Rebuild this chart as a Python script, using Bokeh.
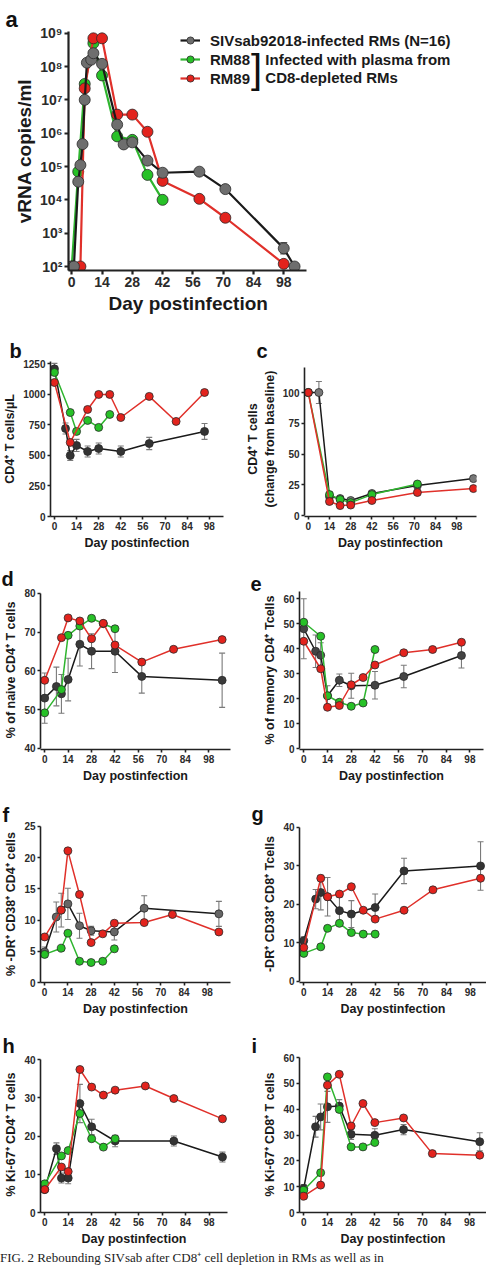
from bokeh.plotting import figure
from bokeh.models import (ColumnDataSource, FixedTicker, Whisker, TeeHead, Legend,
                          LegendItem, Label, Div, Range1d, Title)
from bokeh.layouts import column, row
from bokeh.embed import file_html
from bokeh.resources import INLINE

FONT = "Liberation Sans"

# ---------------- data ----------------
x_ticks = [0, 14, 28, 42, 56, 70, 84, 98]

# panel a: plasma viral load (copies/ml)
a_y_ticks = [1e2, 1e3, 1e4, 1e5, 1e6, 1e7, 1e8, 1e9]
a_y_labels = ["10²", "10³", "10⁴", "10⁵", "10⁶", "10⁷", "10⁸", "10⁹"]
a_gray_day = [0, 1, 3, 4, 5, 6, 7, 9, 10, 14, 21, 24, 28, 35, 42, 59, 71, 98, 103]
a_gray_vl = [1e2, 1e2, 3.5e4, 1.1e5, 4.7e5, 1.0e7, 1.3e8, 1.6e8, 2.5e8, 1.2e8, 1.8e6,
             4.6e5, 5.3e5, 1.5e5, 6.5e4, 7.0e4, 2.1e4, 3.5e2, 1e2]
a_gray_hi = [1e2, 1e2, 4.2e4, 1.3e5, 5.5e5, 1.2e7, 1.6e8, 2.0e8, 3.2e8, 1.5e8, 2.2e6,
             5.5e5, 6.6e5, 2.0e5, 8.2e4, 8.8e4, 2.7e4, 5.2e2, 1e2]
a_gray_lo = [1e2, 1e2, 2.9e4, 0.9e5, 3.9e5, 0.8e7, 1.05e8, 1.3e8, 2.0e8, 0.95e8, 1.45e6,
             3.8e5, 4.3e5, 1.15e5, 5.2e4, 5.6e4, 1.65e4, 2.4e2, 1e2]
a_green_day = [0, 3, 6, 10, 14, 21, 28, 35, 42]
a_green_vl = [1e2, 7e4, 3e7, 5e8, 5.4e7, 8e5, 6.3e5, 5.6e4, 1.0e4]
a_red_day = [4, 6, 10, 14, 21, 28, 35, 42, 59, 71, 98]
a_red_vl = [1e2, 2.2e7, 7e8, 7e8, 3.6e6, 3.6e6, 1.1e6, 3.7e4, 1.07e4, 2.9e3, 1.2e2]

# panel b: CD4+ T cells / uL
b_y_ticks = [0, 250, 500, 750, 1000, 1250]
b_gray_day = [0, 7, 10, 14, 21, 28, 42, 60, 95]
b_gray = [1210, 721, 500, 582, 533, 557, 533, 598, 697]
b_gray_err = [45, 45, 40, 50, 45, 45, 45, 50, 65]
b_green_day = [0, 10, 14, 21, 28, 35]
b_green = [1180, 852, 697, 787, 730, 836]
b_red_day = [0, 10, 21, 28, 35, 42, 60, 77, 95]
b_red = [1098, 607, 877, 1000, 1000, 811, 984, 779, 1016]

# panel c: CD4+ T cells, change from baseline
c_y_ticks = [0, 25, 50, 75, 100]
c_gray_day = [0, 7, 14, 21, 28, 42, 72, 109]
c_gray = [100, 100, 15.4, 13.8, 12.2, 17.9, 24.4, 30.0]
c_gray_err = [0, 9, 2, 1.5, 1.5, 1.5, 1.5, 1.5]
c_green_day = [0, 14, 21, 28, 42, 72]
c_green = [100, 17, 13, 10.5, 17, 25.6]
c_red_day = [0, 14, 21, 28, 42, 72, 109]
c_red = [100, 11.4, 8.1, 8.5, 12.2, 18.7, 21.9]

# panel d: % naive CD4+
d_y_ticks = [40, 50, 60, 70, 80]
d_gray_day = [0, 7, 10, 14, 21, 28, 42, 58, 106]
d_gray = [53.0, 56.0, 54.1, 57.8, 66.9, 65.1, 65.1, 58.6, 57.6]
d_gray_err = [6.5, 5, 5, 5.5, 5.6, 4.5, 5.5, 4.3, 7]
d_green_day = [0, 10, 14, 21, 28, 35, 42]
d_green = [49.2, 55.2, 69.2, 71.6, 73.6, 72.2, 70.9]
d_red_day = [0, 10, 14, 21, 28, 35, 42, 58, 77, 106]
d_red = [57.6, 68.6, 73.7, 72.9, 68.3, 72.3, 66.7, 62.3, 65.6, 68.1]

# panel e: % memory CD4+
e_y_ticks = [0, 10, 20, 30, 40, 50, 60]
e_gray_day = [0, 7, 10, 14, 21, 28, 42, 59, 93]
e_gray = [47.9, 38.9, 37.3, 21.1, 27.3, 25.1, 25.3, 28.8, 37.2]
e_gray_err = [12, 6.5, 5, 4, 2.5, 5, 5.5, 4.5, 5]
e_green_day = [0, 10, 14, 21, 28, 35, 42]
e_green = [50.5, 44.9, 21.1, 18.5, 16.9, 18.2, 39.6]
e_red_day = [0, 10, 14, 21, 28, 35, 42, 59, 76, 93]
e_red = [42.9, 31.9, 16.5, 17.2, 25.5, 28.4, 33.4, 38.3, 39.6, 42.5]

# panel f: % DR+ CD38+ CD4+
f_y_ticks = [0, 5, 10, 15, 20, 25]
f_gray_day = [0, 7, 10, 14, 21, 28, 42, 60, 105]
f_gray = [4.9, 10.5, 11.6, 12.6, 9.1, 8.3, 8.1, 11.9, 11.0]
f_gray_err = [0.8, 2.4, 2.7, 2.5, 2.0, 0.7, 1.3, 2.0, 2.0]
f_green_day = [0, 10, 14, 21, 28, 35, 42]
f_green = [4.5, 5.5, 7.9, 3.4, 3.2, 3.4, 5.4]
f_red_day = [0, 10, 14, 21, 28, 35, 42, 60, 77, 105]
f_red = [7.3, 11.6, 21.1, 14.1, 6.4, 7.8, 9.5, 9.6, 10.9, 8.1]

# panel g: % DR+ CD38+ CD8+
g_y_ticks = [0, 10, 20, 30, 40]
g_gray_day = [0, 7, 10, 14, 21, 28, 42, 59, 104]
g_gray = [10.6, 21.4, 23.1, 22.0, 18.4, 17.5, 19.2, 28.7, 30.0]
g_gray_err = [1, 2.5, 4.5, 5, 3.5, 3.5, 3.5, 3.3, 6.3]
g_green_day = [0, 10, 14, 21, 28, 35, 42]
g_green = [7.3, 9.0, 13.8, 15.1, 12.7, 12.3, 12.3]
g_red_day = [0, 10, 14, 21, 28, 35, 42, 59, 76, 104]
g_red = [8.8, 26.8, 22.0, 22.7, 24.6, 18.5, 16.2, 18.5, 23.8, 26.8]

# panel h: % Ki-67+ CD4+
h_y_ticks = [0, 10, 20, 30, 40]
h_gray_day = [0, 7, 10, 14, 21, 28, 42, 77, 106]
h_gray = [6.0, 16.7, 9.0, 9.0, 28.5, 22.4, 18.7, 18.7, 14.5]
h_gray_err = [0.5, 1.5, 1.3, 1.5, 5, 2, 1.5, 1.3, 1.3]
h_green_day = [0, 10, 14, 21, 28, 35, 42]
h_green = [7.5, 14.8, 16.2, 25.9, 19.3, 17.1, 19.3]
h_red_day = [0, 10, 14, 21, 28, 35, 42, 60, 77, 106]
h_red = [6.0, 11.9, 10.7, 37.4, 32.8, 30.7, 32.0, 33.1, 29.8, 24.5]

# panel i: % Ki-67+ CD8+
i_y_ticks = [0, 10, 20, 30, 40, 50, 60]
i_gray_day = [0, 7, 10, 14, 21, 28, 42, 59, 104]
i_gray = [9.3, 33.2, 37.0, 40.9, 41.2, 30.3, 29.9, 32.1, 27.4]
i_gray_err = [1.5, 4, 5, 6, 2.5, 2, 2.5, 2, 3.5]
i_green_day = [0, 10, 14, 21, 28, 35, 42]
i_green = [8.6, 15.4, 52.5, 39.9, 25.4, 25.4, 27.1]
i_red_day = [0, 10, 14, 21, 28, 35, 42, 59, 76, 104]
i_red = [6.3, 10.6, 49.3, 53.5, 33.5, 42.2, 34.8, 36.6, 22.8, 22.2]

# ---------------- styles ----------------
GRAY_LINE = "#1a1a1a"
GREEN_LINE = "#2fb52f"
RED_LINE = "#e0302a"
GREEN_FILL = "#27c127"
RED_FILL = "#e3231d"
EDGE = "#2a2a2a"
ERR = "#7a7a7a"


def style(p, tick_px, label_px, axis_w, tick_out, lab_standoff, title_standoff_x, title_standoff_y):
    p.outline_line_color = None
    p.xgrid.visible = False
    p.ygrid.visible = False
    p.background_fill_color = "white"
    p.border_fill_color = "white"
    for ax in (p.xaxis[0], p.yaxis[0]):
        ax.axis_line_color = "#222222"
        ax.axis_line_width = axis_w
        ax.major_tick_line_color = "#222222"
        ax.major_tick_line_width = axis_w
        ax.major_tick_out = tick_out
        ax.major_tick_in = 0
        ax.minor_tick_line_color = None
        ax.major_label_text_font = FONT
        ax.major_label_text_font_style = "bold"
        ax.major_label_text_font_size = f"{tick_px}px"
        ax.major_label_text_color = "#2b2b2b"
        ax.major_label_standoff = lab_standoff
        ax.axis_label_text_font = FONT
        ax.axis_label_text_font_style = "bold"
        ax.axis_label_text_font_size = f"{label_px}px"
        ax.axis_label_text_color = "#1a1a1a"
    p.xaxis[0].axis_label_standoff = title_standoff_x
    p.yaxis[0].axis_label_standoff = title_standoff_y


def set_title(p, letter, px, offset, standoff):
    p.title.text = letter
    p.title.text_font = FONT
    p.title.text_font_style = "bold"
    p.title.text_font_size = f"{px}px"
    p.title.text_color = "#111111"
    p.title.align = "left"
    p.title.offset = offset
    p.title.standoff = standoff


def series(p, days, vals, line_color, fill, size, lw):
    src = ColumnDataSource(dict(x=days, y=vals))
    lr = p.line("x", "y", source=src, line_color=line_color, line_width=lw)
    sr = p.scatter("x", "y", source=src, size=size, fill_color=fill,
                   line_color=EDGE, line_width=0.8)
    return lr, sr


def whiskers(p, days, lo, hi, head, color=ERR, lw=1.1):
    src = ColumnDataSource(dict(x=days, lo=lo, hi=hi))
    w = Whisker(source=src, base="x", lower="lo", upper="hi",
                line_color=color, line_width=lw,
                upper_head=TeeHead(size=head, line_color=color, line_width=lw),
                lower_head=TeeHead(size=head, line_color=color, line_width=lw))
    p.add_layout(w)


def panel(letter, width, height, border, xr, yr, ybounds, y_ticks, ylabel,
          gray, green, red, gray_fill, letter_offset, letter_standoff):
    l, r, t, b = border
    p = figure(width=width, height=height, x_range=Range1d(*xr), y_range=Range1d(*yr),
               output_backend="svg", toolbar_location=None,
               min_border_left=l, min_border_right=r, min_border_top=t,
               min_border_bottom=b)
    style(p, 10, 12.5, 1.6, 3, 2, 3, 3)
    set_title(p, letter, 20, letter_offset, letter_standoff)
    p.xaxis.ticker = FixedTicker(ticks=x_ticks)
    p.yaxis.ticker = FixedTicker(ticks=y_ticks)
    if ybounds is not None:
        p.yaxis.bounds = ybounds
    p.xaxis.axis_label = "Day postinfection"
    p.yaxis.axis_label = ylabel
    gd, gv, ge = gray
    whiskers(p, gd, [v - e for v, e in zip(gv, ge)], [v + e for v, e in zip(gv, ge)], 6)
    series(p, gd, gv, GRAY_LINE, gray_fill, 8, 1.5)
    series(p, green[0], green[1], GREEN_LINE, GREEN_FILL, 8, 1.5)
    series(p, red[0], red[1], RED_LINE, RED_FILL, 8, 1.5)
    return p


# ---------------- panel a ----------------
pa = figure(width=486, height=330, x_range=Range1d(-1.5, 187.1),
            y_range=Range1d(10 ** 1.88, 10 ** 9.05), y_axis_type="log",
            output_backend="svg", toolbar_location=None,
            min_border_left=68, min_border_right=10, min_border_top=31, min_border_bottom=60)
style(pa, 14, 19, 2.2, 4, 2, 5, 2)
set_title(pa, "a", 22, -63, 0)
pa.xaxis.ticker = FixedTicker(ticks=x_ticks)
pa.xaxis.bounds = (-1.5, 108.5)
pa.yaxis.ticker = FixedTicker(ticks=a_y_ticks)
pa.yaxis.major_label_overrides = {float(t): s for t, s in zip(a_y_ticks, a_y_labels)}
pa.yaxis.axis_label = "vRNA copies/ml"
pa.add_layout(Title(text="Day postinfection", align="left", offset=40, standoff=3,
                    text_font=FONT, text_font_style="bold", text_font_size="19px",
                    text_color="#1a1a1a"), "below")
whiskers(pa, a_gray_day, a_gray_lo, a_gray_hi, 7, color="#555555", lw=1.3)
gl, gs = series(pa, a_green_day, a_green_vl, GREEN_LINE, GREEN_FILL, 11, 2.2)
rl, rs = series(pa, a_red_day, a_red_vl, RED_LINE, RED_FILL, 11, 2.2)
kl, ks = series(pa, a_gray_day, a_gray_vl, GRAY_LINE, "#6e6e6e", 11, 2.2)
legend = Legend(items=[
    LegendItem(label="SIVsab92018-infected RMs (N=16)", renderers=[kl, ks]),
    LegendItem(label="RM88", renderers=[gl, gs]),
    LegendItem(label="RM89", renderers=[rl, rs]),
], location=(112, 183), padding=0, margin=0, spacing=1,
    border_line_color=None, background_fill_alpha=0,
    glyph_width=20, glyph_height=18, label_height=18, label_standoff=10,
    label_text_font=FONT, label_text_font_style="bold", label_text_font_size="15px",
    label_text_color="#1a1a1a")
pa.add_layout(legend)
pa.add_layout(Label(x=89.5, y=10 ** 8.21, text="Infected with plasma from",
                    text_font=FONT, text_font_style="bold", text_font_size="15px",
                    text_color="#1a1a1a", text_baseline="middle", text_align="left"))
pa.add_layout(Label(x=89.5, y=10 ** 7.67, text="CD8-depleted RMs",
                    text_font=FONT, text_font_style="bold", text_font_size="15px",
                    text_color="#1a1a1a", text_baseline="middle", text_align="left"))
pa.add_layout(Label(x=85.4, y=10 ** 7.94, text="]",
                    text_font=FONT, text_font_size="40px",
                    text_color="#111111", text_baseline="middle", text_align="center"))

# ---------------- lower panels ----------------
# row 2: frames 361..516
pb = panel("b", 243, 230, (42, 20, 31, 44), (-2.5, 107), (0, 1270), None, b_y_ticks,
           "CD4⁺ T cells/µL", (b_gray_day, b_gray, b_gray_err),
           (b_green_day, b_green), (b_red_day, b_red), "#333333", -41, 0)
pc = panel("c", 243, 230, (56, 10, 31, 44), (-2.5, 111), (-0.8, 125.2), (0, 120), c_y_ticks,
           "CD4⁺ T cells\n(change from baseline)", (c_gray_day, c_gray, c_gray_err),
           (c_green_day, c_green), (c_red_day, c_red), "#777777", -48, 0)
# row 3: frames 590..749
pd_ = panel("d", 243, 230, (40, 13, 30, 41), (-2.5, 111), (39.74, 80.77), (40, 80), d_y_ticks,
            "% of naive CD4⁺ T cells", (d_gray_day, d_gray, d_gray_err),
            (d_green_day, d_green), (d_red_day, d_red), "#3a3a3a", -39, 1)
pe = panel("e", 243, 230, (56, 3, 30, 41), (-2.5, 106), (-0.4, 63.2), (0, 63), e_y_ticks,
           "% of memory CD4⁺ Tcells", (e_gray_day, e_gray, e_gray_err),
           (e_green_day, e_green), (e_red_day, e_red), "#444444", -49, 0)
# row 4: frames 825..982
pf = panel("f", 243, 235, (40, 13, 35, 43), (-2.5, 112), (0, 25.16), (0, 25), f_y_ticks,
           "% -DR⁺ CD38⁺ CD4⁺ cells", (f_gray_day, f_gray, f_gray_err),
           (f_green_day, f_green), (f_red_day, f_red), "#666666", -38, 0)
pg = panel("g", 243, 235, (56, 0, 35, 43), (-2.5, 107.5), (-0.26, 40.5), (0, 40), g_y_ticks,
           "-DR⁺ CD38⁺ CD8⁺ Tcells", (g_gray_day, g_gray, g_gray_err),
           (g_green_day, g_green), (g_red_day, g_red), "#333333", -48, 1)
# row 5: frames 1056..1212
ph = panel("h", 243, 225, (40, 16, 31, 38), (-2.5, 109), (0, 40.8), (0, 40), h_y_ticks,
           "% Ki-67⁺ CD4⁺ T cells", (h_gray_day, h_gray, h_gray_err),
           (h_green_day, h_green), (h_red_day, h_red), "#333333", -38, 0)
pi = panel("i", 243, 225, (56, 0, 31, 38), (-2.5, 108), (0, 60.4), (0, 60), i_y_ticks,
           "% Ki-67⁺ CD8⁺ T cells", (i_gray_day, i_gray, i_gray_err),
           (i_green_day, i_green), (i_red_day, i_red), "#333333", -48, 0)

caption = Div(text="FIG. 2 Rebounding SIVsab after CD8⁺ cell depletion in RMs as well as in",
              width=486, height=16, margin=0,
              styles={"font-family": "Liberation Serif", "font-size": "13px",
                      "white-space": "nowrap", "overflow": "hidden",
                      "padding-top": "1px", "color": "#222222", "line-height": "14px"})

layout = column(pa, row(pb, pc, spacing=0), row(pd_, pe, spacing=0),
                row(pf, pg, spacing=0), row(ph, pi, spacing=0), caption, spacing=0)

open("out.html", "w").write(file_html(layout, INLINE))
